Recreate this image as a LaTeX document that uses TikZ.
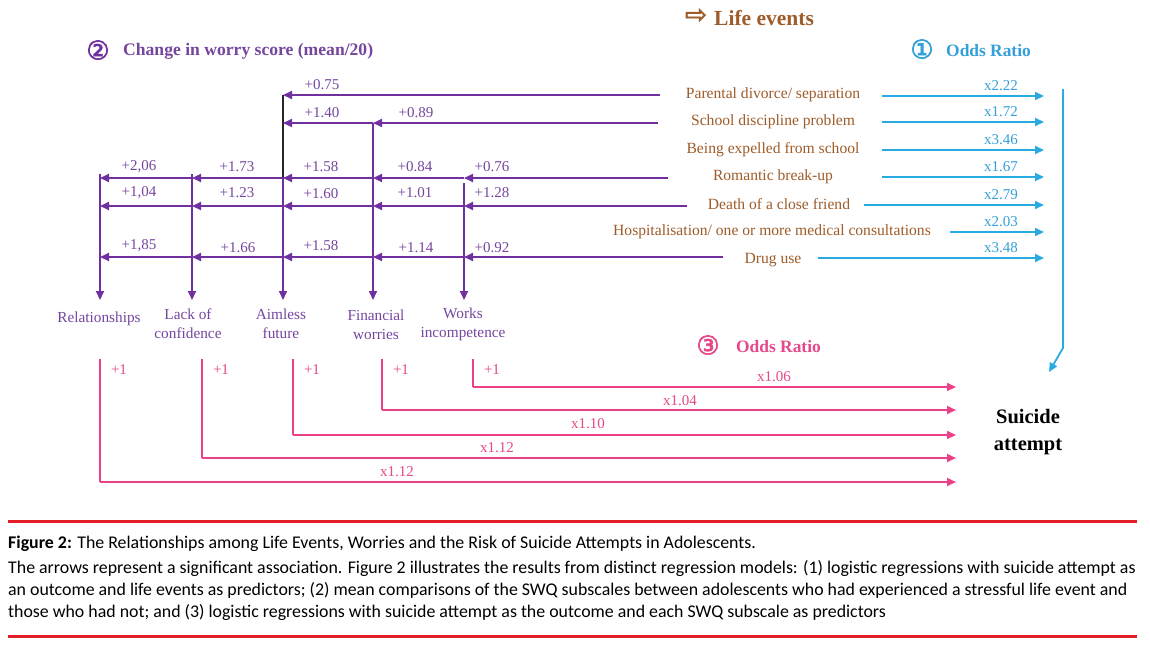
\documentclass[tikz,border=0pt]{standalone}
\usepackage{fontspec}
\setmainfont{Liberation Serif}
\newfontfamily\dejavu{DejaVu Sans}
\newfontfamily\circfont[FakeBold=2.5]{DejaVu Sans}
\newfontfamily\capfont{Carlito}
\usetikzlibrary{arrows.meta}
\definecolor{purp}{RGB}{112,48,160}
\definecolor{purptxt}{RGB}{118,70,158}
\definecolor{brown}{RGB}{158,92,42}
\definecolor{blueline}{RGB}{41,171,226}
\definecolor{bluetxt}{RGB}{52,160,218}
\definecolor{pinkline}{RGB}{236,64,136}
\definecolor{pinktxt}{RGB}{230,72,140}
\definecolor{capred}{RGB}{228,30,38}
\tikzset{
  tip/.style={-{Triangle[length=9pt,width=8pt]}},
  pl/.style={draw=purp, line width=1.8pt},
  parr/.style={pl, tip},
  barr/.style={draw=blueline, line width=1.8pt, tip},
  pkline/.style={draw=pinkline, line width=1.8pt},
  pkarr/.style={pkline, tip},
  numlbl/.style={text=purptxt, font=\fontsize{15}{16}\selectfont, inner sep=0pt},
  worry/.style={text=purptxt, font=\fontsize{15.3}{19}\selectfont, align=center, inner sep=0pt},
  event/.style={text=brown, font=\fontsize{15.6}{16}\selectfont, inner sep=0pt},
  orlbl/.style={text=bluetxt, font=\fontsize{15}{16}\selectfont, inner sep=0pt},
  pklbl/.style={text=pinktxt, font=\fontsize{15}{16}\selectfont, inner sep=0pt},
  circnum/.style={font=\circfont\fontsize{26}{28}\selectfont, inner sep=0pt},
  capline/.style={anchor=west, inner sep=0pt, font=\capfont\fontsize{17.85}{19}\selectfont},
}
\begin{document}
\begin{tikzpicture}[x=1pt,y=-1pt]
\useasboundingbox[fill=white] (0,0) rectangle (1150,646);

% ---------- headers ----------
\node[circnum, text=purp] (c2) at (98,50) {②};
\node[text=purptxt, font=\bfseries\fontsize{17.6}{18}\selectfont, anchor=west, inner sep=0pt] (h2) at (123,51) {Change in worry score (mean/20)};
\node[text=brown, font=\circfont\fontsize{26}{28}\selectfont, inner sep=0pt] (larr) at (696,16) {⇨};
\node[text=brown, font=\bfseries\fontsize{21.5}{22}\selectfont, anchor=west, inner sep=0pt] (h0) at (714,18) {Life events};
\node[circnum, text=bluetxt] (c1) at (922,49) {①};
\node[text=bluetxt, font=\bfseries\fontsize{17.4}{18}\selectfont, anchor=west, inner sep=0pt] (h1) at (946,51) {Odds Ratio};
\node[circnum, text=pinktxt] (c3) at (708,345) {③};
\node[text=pinktxt, font=\bfseries\fontsize{17.4}{18}\selectfont, anchor=west, inner sep=0pt] (h3) at (736,347) {Odds Ratio};

% ---------- life events ----------
\node[event] (e1) at (773,95) {Parental divorce/ separation};
\node[event] (e2) at (773,122) {School discipline problem};
\node[event] (e3) at (773,150) {Being expelled from school};
\node[event] (e4) at (773,177) {Romantic break-up};
\node[event] (e5) at (779,204) {Death of a close friend};
\node[event] (e6) at (772,232) {Hospitalisation/ one or more medical consultations};
\node[event] (e7) at (773,260) {Drug use};

% ---------- worries ----------
\node[worry] (w1) at (99,319) {Relationships};
\node[worry] (w2) at (188,324) {Lack of\\confidence};
\node[worry] (w3) at (281,324) {Aimless\\future};
\node[worry] (w4) at (376,325) {Financial\\worries};
\node[worry] (w5) at (463,324) {Works\\incompetence};

\node[font=\bfseries\fontsize{20.5}{27}\selectfont, align=center, inner sep=0pt] (sa) at (1028,432) {Suicide\\attempt};

% verticals
\draw[parr] (100,174) -- (100,300);
\draw[parr] (192,174) -- (192,300);
\draw[line width=1.8pt, black!85] (283,95) -- (283,178);
\draw[parr] (283,178) -- (283,300);
\draw[parr] (373,123) -- (373,300);
\draw[parr] (464,183) -- (464,300);

% row: parental divorce (y=95)
\draw[parr] (660,95) -- (283,95);
% row: school discipline (y=123)
\draw[parr] (658,123) -- (373,123);
\draw[parr] (373,123) -- (283,123);
% rows with all five worries
\foreach \y/\s in {178/668, 206/687, 257/723}{
  \draw[parr] (\s,\y) -- (464,\y);
  \draw[parr] (464,\y) -- (373,\y);
  \draw[parr] (373,\y) -- (283,\y);
  \draw[parr] (283,\y) -- (192,\y);
  \draw[parr] (192,\y) -- (100,\y);
}

% purple numbers
\node[numlbl] (n1) at (322,85) {+0.75};
\node[numlbl] (n2) at (322,113) {+1.40};
\node[numlbl] (n3) at (416,113) {+0.89};
\node[numlbl] at (139,167) {+2,06};
\node[numlbl] at (237,167) {+1.73};
\node[numlbl] at (321,167) {+1.58};
\node[numlbl] at (415,167) {+0.84};
\node[numlbl] at (492,167) {+0.76};
\node[numlbl] at (139,193) {+1,04};
\node[numlbl] at (237,193) {+1.23};
\node[numlbl] at (321,194) {+1.60};
\node[numlbl] at (415,193) {+1.01};
\node[numlbl] at (492,193) {+1.28};
\node[numlbl] at (139,246) {+1,85};
\node[numlbl] at (238,248) {+1.66};
\node[numlbl] at (321,246) {+1.58};
\node[numlbl] at (416,248) {+1.14};
\node[numlbl] at (492,248) {+0.92};

% ---------- blue odds ratios ----------
\foreach \s/\y/\t in {882/96/x2.22, 882/122/x1.72, 882/150/x3.46, 882/177/x1.67, 864/205/x2.79, 950/232/x2.03, 818/258/x3.48}{
  \draw[barr] (\s,\y) -- (1044,\y);
  \node[orlbl] at (1001,\y-10) {\t};
}
\coordinate (bv1) at (1063,89);
\coordinate (bv2) at (1063,348);
\coordinate (bv3) at (1049,372);
\draw[draw=blueline, line width=1.8pt, tip] (bv1) -- (bv2) -- (bv3);

% ---------- pink ----------
\foreach \x/\y in {100/482, 202/458, 293/435, 382/410, 473/387}{
  \draw[pkline] (\x,359) -- (\x,\y);
  \draw[pkarr] (\x,\y) -- (956,\y);
  \node[pklbl] at (\x+19,370) {+1};
}
\node[pklbl] at (774,377) {x1.06};
\node[pklbl] at (680,401) {x1.04};
\node[pklbl] at (588,424) {x1.10};
\node[pklbl] at (497,448) {x1.12};
\node[pklbl] at (397,472) {x1.12};

% ---------- caption ----------
\draw[capred, line width=3pt] (8,521) -- (1137,521);
\draw[capred, line width=3pt] (8,636) -- (1137,636);
\node[capline] (cap0) at (8,544) {\textbf{Figure 2:} The Relationships among Life Events, Worries and the Risk of Suicide Attempts in Adolescents.};
\node[capline] (cap1) at (8,568) {The arrows represent a significant association. Figure 2 illustrates the results from distinct regression models: (1) logistic regressions with suicide attempt as};
\node[capline] (cap2) at (8,590) {an outcome and life events as predictors; (2) mean comparisons of the SWQ subscales between adolescents who had experienced a stressful life event and};
\node[capline] (cap3) at (8,612) {those who had not; and (3) logistic regressions with suicide attempt as the outcome and each SWQ subscale as predictors};
\end{tikzpicture}
\end{document}
